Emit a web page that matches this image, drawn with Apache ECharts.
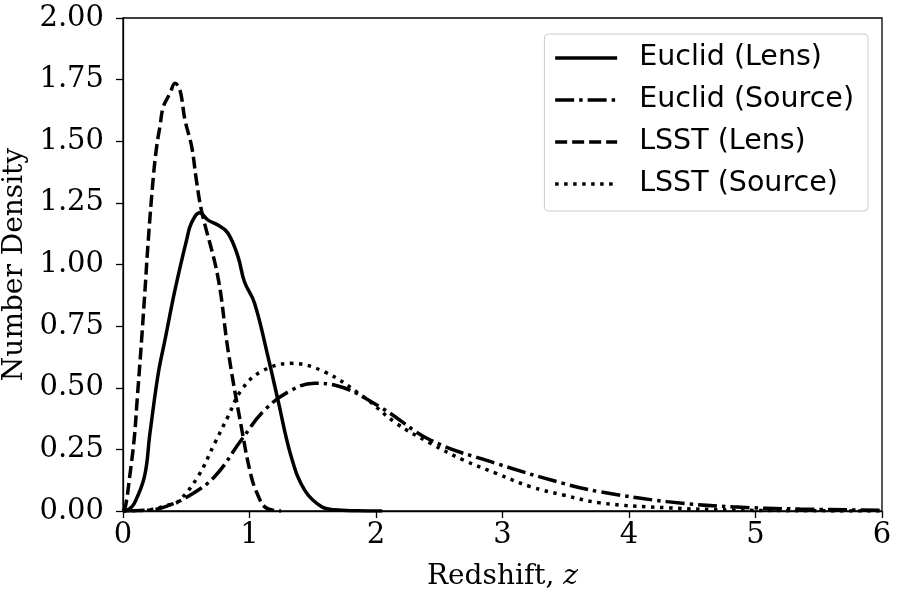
<!DOCTYPE html>
<html>
<head>
<meta charset="utf-8">
<script src="https://cdn.jsdelivr.net/npm/echarts@6/dist/echarts.min.js"></script>
<style>
  html, body { margin: 0; padding: 0; background: #fff; }
  #chart { width: 900px; height: 600px; }
</style>
</head>
<body>
<div id="chart"></div>
<script>
// redshift / density
var euclidLensZ = [0, 0.05, 0.09, 0.17, 0.213, 0.279, 0.332, 0.411, 0.503, 0.54, 0.606, 0.672, 0.75, 0.83, 0.909, 0.96, 1.04, 1.146, 1.225, 1.33, 1.436, 1.57, 1.67, 1.85, 2.05];
var euclidLensN = [0, 0.008, 0.031, 0.14, 0.315, 0.559, 0.694, 0.897, 1.1, 1.167, 1.21, 1.18, 1.16, 1.127, 1.032, 0.93, 0.843, 0.626, 0.45, 0.22, 0.085, 0.017, 0.005, 0.001, 0];

var euclidSourceZ = [0, 0.2, 0.33, 0.51, 0.725, 0.935, 1.12, 1.33, 1.515, 1.67, 2.03, 2.43, 2.95, 3.48, 3.77, 4.3, 4.82, 5.35, 6.0];
var euclidSourceN = [0, 0.003, 0.017, 0.058, 0.14, 0.288, 0.41, 0.49, 0.518, 0.511, 0.423, 0.288, 0.193, 0.112, 0.078, 0.038, 0.017, 0.008, 0.003];

var lsstLensZ = [0, 0.02, 0.053, 0.09, 0.108, 0.147, 0.174, 0.2, 0.24, 0.266, 0.292, 0.319, 0.372, 0.411, 0.45, 0.49, 0.543, 0.58, 0.62, 0.75, 0.83, 0.935, 1.014, 1.07, 1.12, 1.2, 1.25];
var lsstLensN = [0, 0.02, 0.14, 0.3, 0.423, 0.694, 0.897, 1.1, 1.356, 1.478, 1.56, 1.64, 1.695, 1.735, 1.708, 1.586, 1.478, 1.343, 1.22, 0.95, 0.653, 0.342, 0.14, 0.06, 0.017, 0.002, 0];

var lsstSourceZ = [0, 0.2, 0.356, 0.435, 0.593, 0.725, 0.83, 0.935, 1.09, 1.33, 1.59, 1.9, 2.16, 2.43, 2.69, 2.95, 3.22, 3.48, 3.77, 4.3, 4.82, 5.4, 6.0];
var lsstSourceN = [0, 0.004, 0.024, 0.038, 0.14, 0.275, 0.383, 0.49, 0.565, 0.599, 0.565, 0.464, 0.356, 0.275, 0.207, 0.153, 0.099, 0.065, 0.033, 0.013, 0.004, 0.001, 0];

var seriesNames = ['Euclid (Lens)', 'Euclid (Source)', 'LSST (Lens)', 'LSST (Source)'];

function pairs(xs, ys) {
    return xs.map(function (x, i) { return [x, ys[i]]; });
}

var chart = echarts.init(document.getElementById('chart'));

function lineSeries(name, data, dash) {
    return {
        name: name,
        type: 'line',
        data: data,
        symbol: 'none',
        showSymbol: false,
        smooth: 0.4,
        lineStyle: { color: '#000', width: 3.5, type: dash, cap: 'butt' },
        itemStyle: { color: '#000' }
    };
}

var option = {
    animation: false,
    grid: {
        left: 123, right: 18, top: 18, bottom: 89,
        outerBoundsMode: 'none',
        show: true, borderColor: '#000', borderWidth: 1.3
    },
    legend: {
        data: seriesNames,
        orient: 'vertical',
        right: 32,
        top: 34,
        itemWidth: 62,
        itemHeight: 20,
        itemGap: 12,
        padding: [9, 14, 12, 9],
        borderColor: '#ccc',
        borderWidth: 1,
        borderRadius: 4,
        backgroundColor: 'rgba(255,255,255,0.8)',
        selectedMode: false,
        itemStyle: { opacity: 0 },
        lineStyle: { width: 3.5 },
        textStyle: {
            fontFamily: 'DejaVu Sans',
            fontSize: 28.5,
            lineHeight: 30,
            color: '#000',
            padding: [0, 0, 0, 17]
        }
    },
    xAxis: {
        type: 'value',
        min: 0, max: 6, interval: 1,
        name: '{a|Redshift, }{b|z}',
        nameLocation: 'middle',
        nameGap: 52,
        nameTextStyle: {
            rich: {
                a: { fontFamily: 'DejaVu Serif', fontSize: 28, color: '#000' },
                b: { fontFamily: 'DejaVu Serif', fontSize: 28, fontStyle: 'italic', color: '#000' }
            }
        },
        axisLine: { lineStyle: { color: '#000', width: 1.3 } },
        axisTick: { length: 7, lineStyle: { color: '#000', width: 1.3 } },
        axisLabel: { fontFamily: 'DejaVu Serif', fontSize: 29, color: '#000', margin: 10 },
        splitLine: { show: false }
    },
    yAxis: {
        type: 'value',
        min: 0, max: 2, interval: 0.25,
        name: 'Number Density',
        nameLocation: 'middle',
        nameGap: 83,
        nameTextStyle: { fontFamily: 'DejaVu Serif', fontSize: 28, color: '#000' },
        axisLine: { lineStyle: { color: '#000', width: 1.3 } },
        axisTick: { length: 7, lineStyle: { color: '#000', width: 1.3 } },
        axisLabel: {
            fontFamily: 'DejaVu Serif', fontSize: 29, color: '#000', margin: 19,
            formatter: function (v) { return v.toFixed(2); }
        },
        splitLine: { show: false }
    },
    series: [
        lineSeries(seriesNames[0], pairs(euclidLensZ, euclidLensN), 'solid'),
        lineSeries(seriesNames[1], pairs(euclidSourceZ, euclidSourceN), [19, 5, 3.5, 5]),
        lineSeries(seriesNames[2], pairs(lsstLensZ, lsstLensN), [12, 5]),
        lineSeries(seriesNames[3], pairs(lsstSourceZ, lsstSourceN), [3.5, 5.5])
    ]
};
chart.setOption(option);
</script>
</body>
</html>
